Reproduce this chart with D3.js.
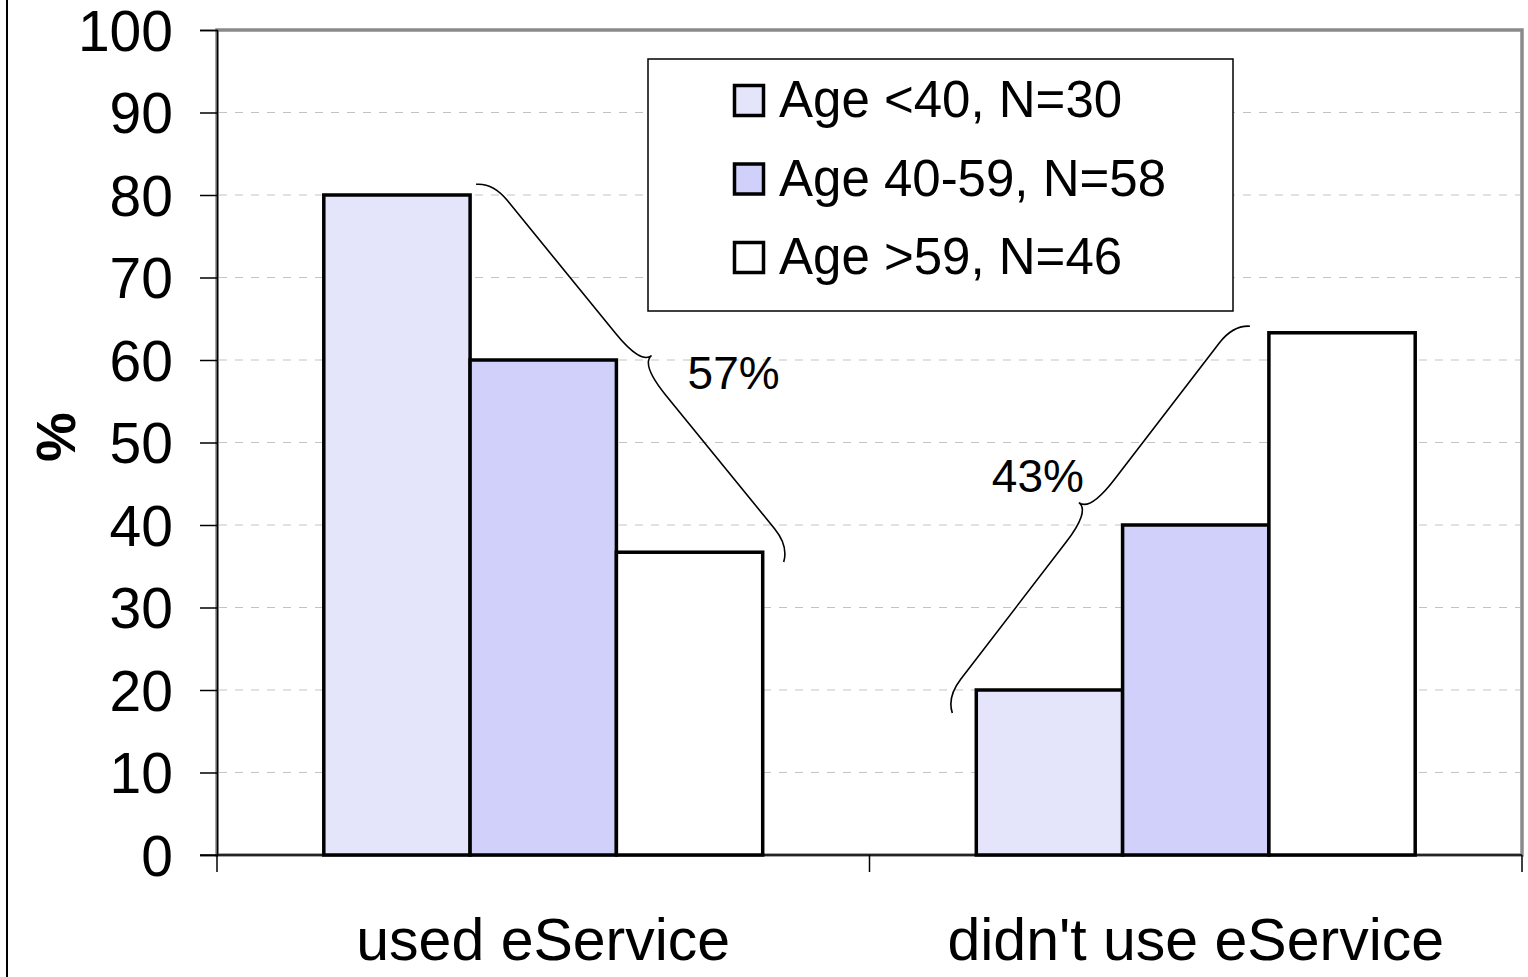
<!DOCTYPE html>
<html>
<head>
	<script src="https://cdn.jsdelivr.net/npm/d3@7/dist/d3.min.js"></script>
	<style>
		body { margin: 0; background: white; }
		text { font-family: "Liberation Sans", Arial, sans-serif; fill: black; }
	</style>
</head>
<body>

	<script>

		/*
		 * eService use by age group
		 */

		var width  = 1528;
		var height = 977;

		var margin = { top: 30, right: 6, bottom: 122, left: 217 };

		// ---- data ----
		var categories   = ["used eService", "didn't use eService"];
		var seriesNames  = ["Age <40, N=30", "Age 40-59, N=58", "Age >59, N=46"];
		var usedValues   = [80, 60, 36.7];
		var unusedValues = [20, 40, 63.3];
		var yTicks       = [0, 10, 20, 30, 40, 50, 60, 70, 80, 90, 100];
		var braceLabels  = ["57%", "43%"];

		var seriesColors = ["#e4e4fb", "#d0d0fb", "#ffffff"];

		var rows = [usedValues, unusedValues];

		var svg = d3.select("body").append("svg")
			.attr("width", width)
			.attr("height", height);

		var x0 = d3.scaleBand()
			.domain(categories)
			.range([margin.left, width - margin.right]);

		var x1 = d3.scaleBand()
			.domain(d3.range(seriesNames.length))
			.range([0, x0.bandwidth()])
			.paddingInner(0)
			.paddingOuter(0.73);

		var y = d3.scaleLinear()
			.domain([0, 100])
			.range([height - margin.bottom, margin.top]);

		var plotRight  = width - margin.right;
		var plotBottom = height - margin.bottom;

		// page edge line on the left
		svg.append("line")
			.attr("x1", 7).attr("x2", 7)
			.attr("y1", 0).attr("y2", height)
			.attr("stroke", "black")
			.attr("stroke-width", 2);

		// plot area frame
		svg.append("rect")
			.attr("x", margin.left)
			.attr("y", margin.top)
			.attr("width", plotRight - margin.left)
			.attr("height", plotBottom - margin.top)
			.attr("fill", "none")
			.attr("stroke", "#8a8a8a")
			.attr("stroke-width", 3.5);

		// gridlines
		svg.append("g")
			.selectAll("line")
			.data(yTicks.filter(function(d) { return d > 0 && d < 100; }))
			.enter().append("line")
			.attr("x1", margin.left + 2)
			.attr("x2", plotRight - 2)
			.attr("y1", function(d) { return y(d); })
			.attr("y2", function(d) { return y(d); })
			.attr("stroke", "#c4c4c4")
			.attr("stroke-width", 1.2)
			.attr("stroke-dasharray", "8,8");

		// y axis
		var yAxis = svg.append("g")
			.attr("transform", "translate(" + margin.left + ",0)")
			.call(d3.axisLeft(y).tickValues(yTicks).tickSize(17).tickPadding(27));

		yAxis.select(".domain").attr("stroke", "black").attr("stroke-width", 1.5);
		yAxis.selectAll(".tick line").attr("stroke", "black").attr("stroke-width", 1.5);
		yAxis.selectAll(".tick text")
			.attr("font-size", 57)
			.attr("font-family", "Liberation Sans, Arial, sans-serif")
			.attr("fill", "black")
			.attr("dy", "0.358em");

		// x axis with ticks between categories
		var xBound = [margin.left, x0(categories[1]), plotRight];

		svg.append("line")
			.attr("x1", margin.left - 17).attr("x2", plotRight)
			.attr("y1", plotBottom).attr("y2", plotBottom)
			.attr("stroke", "black")
			.attr("stroke-width", 1.5);

		svg.append("g")
			.selectAll("line")
			.data(xBound)
			.enter().append("line")
			.attr("x1", function(d) { return d; })
			.attr("x2", function(d) { return d; })
			.attr("y1", plotBottom)
			.attr("y2", plotBottom + 17)
			.attr("stroke", "black")
			.attr("stroke-width", 1.5);

		svg.append("g")
			.selectAll("text")
			.data(categories)
			.enter().append("text")
			.attr("x", function(d) { return x0(d) + x0.bandwidth() / 2; })
			.attr("y", 960)
			.attr("text-anchor", "middle")
			.attr("font-size", 59)
			.text(function(d) { return d; });

		// y axis title
		svg.append("text")
			.attr("transform", "translate(75,437) rotate(-90)")
			.attr("text-anchor", "middle")
			.attr("font-size", 56)
			.attr("font-weight", "bold")
			.text("%");

		/*////////////////////////////////////////////
		//                  BARS                    //
		////////////////////////////////////////////*/

		var groups = svg.append("g")
			.selectAll("g")
			.data(rows)
			.enter().append("g")
			.attr("transform", function(d, i) {
				return "translate(" + x0(categories[i]) + ",0)";
			});

		groups.selectAll("rect")
			.data(function(d) { return d; })
			.enter().append("rect")
			.attr("x", function(d, i) { return x1(i); })
			.attr("y", function(d) { return y(d); })
			.attr("width", x1.bandwidth())
			.attr("height", function(d) { return plotBottom - y(d); })
			.attr("fill", function(d, i) { return seriesColors[i]; })
			.attr("stroke", "black")
			.attr("stroke-width", 3.5);

		/*////////////////////////////////////////////
		//                 BRACES                   //
		////////////////////////////////////////////*/

		function barLeft(cat, s)  { return x0(categories[cat]) + x1(s); }
		function barRight(cat, s) { return barLeft(cat, s) + x1.bandwidth(); }

		// curly brace from a to b, tip bulging to the left of the a->b direction
		function bracePath(a, b, depth) {
			var dx = b[0] - a[0], dy = b[1] - a[1];
			var len = Math.sqrt(dx * dx + dy * dy);
			var ux = dx / len, uy = dy / len;
			var nx = uy, ny = -ux;
			function p(u, v) {
				return (a[0] + u * ux + v * nx).toFixed(1) + "," +
				       (a[1] + u * uy + v * ny).toFixed(1);
			}
			var h = depth / 2, r = 32, r2 = 40, m = len / 2;
			return "M" + p(0, 0) + "Q" + p(r * 0.3, h) + " " + p(r, h) +
			       "L" + p(m - r2, h) + "Q" + p(m, h) + " " + p(m, depth) +
			       "M" + p(len, 0) + "Q" + p(len - r * 0.3, h) + " " + p(len - r, h) +
			       "L" + p(m + r2, h) + "Q" + p(m, h) + " " + p(m, depth);
		}

		function braceTip(a, b, depth) {
			var dx = b[0] - a[0], dy = b[1] - a[1];
			var len = Math.sqrt(dx * dx + dy * dy);
			return [(a[0] + b[0]) / 2 + depth * dy / len,
			        (a[1] + b[1]) / 2 - depth * dx / len];
		}

		var braces = [
			{ a: [barRight(0, 0) + 6, y(81.3)], b: [barRight(0, 2) + 21, y(35.5)],
			  label: braceLabels[0], dx: 36, dy: 33, anchor: "start" },
			{ a: [barLeft(1, 0) - 24, y(17.2)], b: [barLeft(1, 2) - 19, y(64.1)],
			  label: braceLabels[1], dx: 5, dy: -11, anchor: "end" }
		];

		braces.forEach(function(br) {
			svg.append("path")
				.attr("d", bracePath(br.a, br.b, 28))
				.attr("fill", "none")
				.attr("stroke", "black")
				.attr("stroke-width", 1.6);

			var tip = braceTip(br.a, br.b, 28);
			svg.append("text")
				.attr("x", tip[0] + br.dx)
				.attr("y", tip[1] + br.dy)
				.attr("text-anchor", br.anchor)
				.attr("font-size", 46)
				.text(br.label);
		});

		/*////////////////////////////////////////////
		//                 LEGEND                   //
		////////////////////////////////////////////*/

		var legend = svg.append("g")
			.attr("transform", "translate(648,59)");

		legend.append("rect")
			.attr("width", 585)
			.attr("height", 252)
			.attr("fill", "white")
			.attr("stroke", "black")
			.attr("stroke-width", 1.5);

		var items = legend.selectAll("g.item")
			.data(seriesNames)
			.enter().append("g")
			.attr("class", "item")
			.attr("transform", function(d, i) {
				return "translate(0," + (41 + i * 78.5) + ")";
			});

		items.append("rect")
			.attr("x", 86.5)
			.attr("y", -14.5)
			.attr("width", 29)
			.attr("height", 30)
			.attr("fill", function(d, i) { return seriesColors[i]; })
			.attr("stroke", "black")
			.attr("stroke-width", 3.5);

		items.append("text")
			.attr("x", 131)
			.attr("y", 17)
			.attr("font-size", 51)
			.text(function(d) { return d; });

	</script>
</body>
</html>
